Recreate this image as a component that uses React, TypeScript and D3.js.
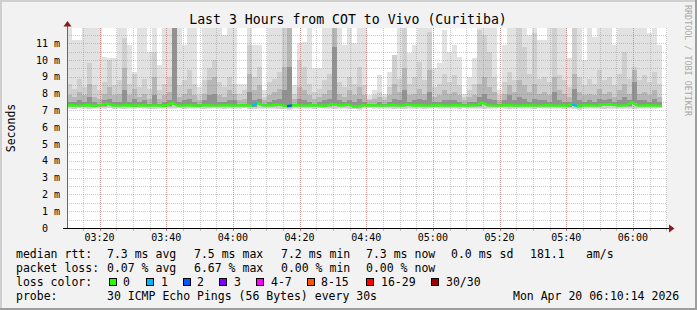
import React from "react";
import * as d3 from "d3";

const TITLE = "Last 3 Hours from COT to Vivo (Curitiba)";
const Y_LABEL = "Seconds";
const SIDE_LABEL = "RRDTOOL / TOBI OETIKER";
const START = new Date(2026, 3, 20, 3, 10, 14);
const END = new Date(2026, 3, 20, 6, 10, 14);
const STEP_SEC = 90;
const Y_MAX = 11.91;
const Y_TICKS = [0, 1, 2, 3, 4, 5, 6, 7, 8, 9, 10, 11];

// smoke: outer (lightest) top per column
const smokeMax = [
  11.9, 11.2, 11.2, 11.9, 11.9, 11.9, 11.9, 10.2, 10.1, 10.1,
  11.9, 11.9, 10.9, 9.3, 11.9, 11.9, 10.5, 11.9, 9.7, 11.9,
  11.9, 11.9, 11.9, 10.9, 11.9, 11.9, 8.4, 11.9, 11.9, 11.9,
  11.9, 11.5, 11.9, 11.9, 8.6, 8.6, 11.9, 10.9, 10.9, 8.2,
  11.9, 11.9, 11.9, 11.9, 11.9, 8.5, 11.0, 11.1, 11.9, 9.5,
  9.5, 11.9, 11.9, 11.9, 11.9, 10.9, 11.9, 11.0, 11.9, 11.9,
  7.9, 8.2, 9.1, 8.0, 9.3, 10.1, 11.9, 11.9, 10.4, 10.9,
  11.9, 11.9, 11.9, 9.5, 9.8, 11.8, 10.5, 10.9, 10.2, 8.0,
  9.0, 10.1, 11.9, 11.9, 11.9, 11.9, 8.2, 10.9, 11.9, 11.9,
  11.9, 11.9, 11.5, 11.9, 11.2, 11.2, 11.9, 11.9, 11.9, 11.9,
  10.1, 11.9, 11.9, 10.0, 11.9, 11.4, 11.9, 11.9, 11.9, 10.9,
  11.9, 11.9, 11.9, 11.9, 11.9, 11.9, 11.6, 11.9, 10.9,
];
const smokeL2 = [
  8.6, 8.3, 8.9, 8.4, 9.8, 8.5, 8.2, 8.7, 10.0, 8.5,
  8.8, 11.3, 8.6, 9.2, 8.4, 8.9, 8.3, 10.5, 8.2, 8.6,
  9.0, 11.9, 8.5, 8.8, 9.4, 8.6, 7.9, 8.8, 9.5, 10.0,
  8.7, 8.4, 9.0, 8.6, 8.0, 8.2, 10.9, 9.0, 9.6, 7.8,
  8.7, 8.9, 9.3, 11.9, 11.9, 8.0, 10.0, 9.6, 8.6, 8.1,
  8.3, 8.8, 9.2, 11.9, 8.7, 8.4, 9.0, 8.6, 9.6, 8.5,
  7.7, 7.9, 8.1, 7.8, 8.4, 10.3, 8.9, 11.9, 8.6, 9.0,
  9.9, 8.8, 11.7, 8.4, 8.6, 9.2, 8.7, 9.1, 8.5, 7.8,
  8.2, 8.6, 11.8, 11.5, 10.5, 9.0, 7.9, 8.7, 9.3, 8.8,
  11.9, 10.8, 9.2, 11.6, 8.9, 9.0, 8.7, 11.9, 9.1, 8.8,
  8.4, 11.9, 9.0, 8.5, 8.9, 8.6, 9.4, 8.8, 9.0, 8.5,
  9.2, 10.5, 8.9, 9.6, 8.8, 9.1, 8.7, 9.3, 8.6,
];
const smokeL3 = [
  7.9, 7.8, 8.1, 7.9, 8.6, 7.8, 7.7, 8.0, 8.4, 7.9,
  8.0, 9.5, 7.9, 8.3, 7.8, 8.0, 7.7, 9.0, 7.7, 7.9,
  8.1, 11.9, 7.8, 8.0, 8.3, 7.9, 7.6, 8.0, 8.8, 9.0,
  7.9, 7.8, 8.2, 8.0, 7.6, 7.7, 9.2, 8.2, 8.5, 7.6,
  7.9, 8.1, 8.3, 9.6, 11.9, 7.7, 8.4, 8.2, 7.9, 7.7,
  7.8, 8.0, 8.2, 11.9, 8.0, 7.8, 8.2, 7.9, 8.4, 7.9,
  7.6, 7.7, 7.8, 7.6, 7.9, 8.6, 8.1, 9.5, 7.9, 8.0,
  8.3, 8.0, 9.4, 7.8, 7.9, 8.2, 8.0, 8.1, 7.9, 7.6,
  7.8, 7.9, 8.6, 9.0, 8.4, 8.1, 7.6, 8.0, 8.5, 8.1,
  8.8, 8.5, 8.1, 8.6, 8.0, 8.1, 7.9, 9.0, 8.2, 8.0,
  7.8, 9.2, 8.1, 7.9, 8.0, 7.9, 8.3, 8.0, 8.1, 7.8,
  8.2, 8.6, 8.0, 9.4, 8.0, 8.1, 7.9, 8.2, 7.8,
];
const smokeL4 = [
  7.5, 7.5, 7.6, 7.5, 7.8, 7.5, 7.4, 7.6, 7.7, 7.5,
  7.5, 8.2, 7.5, 7.7, 7.5, 7.6, 7.4, 7.9, 7.4, 7.5,
  7.6, 11.9, 7.5, 7.6, 7.7, 7.5, 7.4, 7.6, 7.9, 8.0,
  7.5, 7.5, 7.6, 7.6, 7.4, 7.4, 8.1, 7.6, 7.7, 7.4,
  7.5, 7.6, 7.7, 8.2, 9.6, 7.4, 7.7, 7.6, 7.5, 7.4,
  7.5, 7.6, 7.7, 10.8, 7.6, 7.5, 7.6, 7.5, 7.7, 7.5,
  7.4, 7.4, 7.5, 7.4, 7.5, 7.7, 7.6, 8.2, 7.5, 7.6,
  7.7, 7.6, 8.1, 7.5, 7.5, 7.6, 7.6, 7.6, 7.5, 7.4,
  7.5, 7.5, 7.8, 8.0, 7.7, 7.6, 7.4, 7.6, 7.9, 7.6,
  7.8, 7.7, 7.5, 7.7, 7.6, 7.6, 7.5, 8.1, 7.6, 7.5,
  7.5, 8.3, 7.6, 7.5, 7.6, 7.5, 7.7, 7.6, 7.7, 7.5,
  7.6, 7.8, 7.6, 8.7, 7.6, 7.6, 7.5, 7.7, 7.5,
];
const smokeMin = [
  7.10, 7.08, 7.12, 7.10, 7.06, 7.11, 7.09, 7.10, 7.12, 7.08,
  7.10, 7.07, 7.11, 7.09, 7.12, 7.10, 7.08, 7.06, 7.11, 7.10,
  7.09, 7.10, 7.12, 7.08, 7.10, 7.11, 7.09, 7.07, 7.10, 7.12,
  7.10, 7.08, 7.11, 7.09, 7.10, 7.12, 7.08, 7.06, 7.10, 7.11,
  7.09, 7.10, 7.08, 7.06, 7.05, 7.10, 7.09, 7.11, 7.10, 7.08,
  7.12, 7.10, 7.09, 7.07, 7.10, 7.11, 7.08, 7.06, 7.05, 7.10,
  7.12, 7.10, 7.09, 7.11, 7.10, 7.08, 7.10, 7.07, 7.09, 7.11,
  7.10, 7.08, 7.09, 7.12, 7.10, 7.11, 7.09, 7.10, 7.08, 7.12,
  7.10, 7.09, 7.11, 7.08, 7.10, 7.09, 7.12, 7.10, 7.08, 7.10,
  7.09, 7.11, 7.10, 7.08, 7.12, 7.10, 7.09, 7.11, 7.10, 7.08,
  7.10, 7.06, 7.05, 7.10, 7.09, 7.11, 7.10, 7.08, 7.09, 7.10,
  7.11, 7.09, 7.10, 7.08, 7.10, 7.11, 7.09, 7.10, 7.12,
];
const medianRtt = [
  7.30, 7.31, 7.29, 7.30, 7.32, 7.28, 7.30, 7.33, 7.42, 7.31,
  7.29, 7.30, 7.32, 7.28, 7.30, 7.31, 7.29, 7.30, 7.30, 7.28,
  7.31, 7.45, 7.30, 7.29, 7.31, 7.30, 7.28, 7.30, 7.32, 7.30,
  7.29, 7.30, 7.31, 7.29, 7.30, 7.31, 7.30, 7.28, 7.44, 7.32,
  7.30, 7.31, 7.36, 7.30, 7.26, 7.30, 7.32, 7.30, 7.29, 7.31,
  7.30, 7.28, 7.30, 7.38, 7.33, 7.30, 7.36, 7.27, 7.24, 7.30,
  7.30, 7.31, 7.30, 7.29, 7.30, 7.33, 7.30, 7.29, 7.35, 7.30,
  7.31, 7.30, 7.29, 7.30, 7.31, 7.30, 7.29, 7.30, 7.31, 7.30,
  7.29, 7.30, 7.31, 7.48, 7.32, 7.30, 7.29, 7.30, 7.31, 7.30,
  7.29, 7.30, 7.31, 7.30, 7.29, 7.30, 7.32, 7.30, 7.29, 7.30,
  7.28, 7.36, 7.27, 7.30, 7.31, 7.30, 7.29, 7.35, 7.36, 7.35,
  7.30, 7.29, 7.33, 7.48, 7.30, 7.29, 7.31, 7.30, 7.29,
];
const lossCols = [37, 44, 101];
const lossVals = [1, 2, 1];

const LOSS_LABELS = ["0", "1", "2", "3", "4-7", "8-15", "16-29", "30/30"];
const LOSS_COLORS = ["#26ff00", "#00b8ff", "#0059ff", "#7e00ff", "#ff00ff", "#ff5500", "#ff0000", "#a10000"];
const LOSS_BOX_X = [109, 146, 183, 219, 256, 307, 366, 431];
const LOSS_TEXT_X = [123, 161, 197, 234, 271, 321, 381, 446];

const RTT_ITEMS = ["median rtt:", "7.3 ms avg", "7.5 ms max", "7.2 ms min", "7.3 ms now", "0.0 ms sd", "181.1", "am/s"];
const RTT_X = [16, 107, 194, 281, 366, 451, 530, 586];
const LOSS_ITEMS = ["packet loss:", "0.07 % avg", "6.67 % max", "0.00 % min", "0.00 % now"];
const LOSS_X = [16, 107, 194, 281, 366];
const PROBE_ITEMS = ["probe:", "30 ICMP Echo Pings (56 Bytes) every 30s", "Mon Apr 20 06:10:14 2026"];
const PROBE_X = [16, 107, 513];

const X0 = 67, X1 = 667, YT = 28, YB = 228;

export default function App() {
  const x = d3.scaleTime().domain([START, END]).range([X0, X1]);
  const y = d3.scaleLinear().domain([0, Y_MAX]).range([YB, YT]);
  const n = medianRtt.length;
  const colT = (i: number) => d3.timeSecond.offset(START, i * STEP_SEC);
  const majorX = x.ticks(d3.timeMinute.every(20) as any);
  const minorX = x.ticks(d3.timeMinute.every(5) as any);
  const fmt = d3.timeFormat("%H:%M");
  const minorY = d3.range(0.5, Y_MAX, 1);

  const layers = [
    { top: smokeMax, color: "#e2e2e2", bot: (i: number) => smokeMin[i] },
    { top: smokeL2, color: "#cfcfcf", bot: (i: number) => smokeMin[i] + 0.03 },
    { top: smokeL3, color: "#b6b6b6", bot: (i: number) => medianRtt[i] - 0.1 },
    { top: smokeL4, color: "#929292", bot: (i: number) => medianRtt[i] - 0.05 },
  ];

  const medPts: [number, number][] = medianRtt.map((v, i) => [x(colT(i)) as number, y(v)]);
  medPts.push([x(colT(n)) as number, y(medianRtt[n - 1])]);
  const line = d3.line();

  return (
    <svg width={697} height={310} style={{ position: "absolute", left: 0, top: 0, display: "block" }}
      fontFamily="DejaVu Sans Mono">
      <rect x={0} y={0} width={697} height={310} fill="#f2f2f2" />
      <rect x={0} y={0} width={697} height={2} fill="#cfcfcf" />
      <rect x={0} y={0} width={2} height={310} fill="#cfcfcf" />
      <rect x={0} y={308} width={697} height={2} fill="#9e9e9e" />
      <rect x={695} y={0} width={2} height={310} fill="#9e9e9e" />
      <rect x={X0} y={YT} width={X1 - X0} height={YB - YT} fill="#ffffff" />

      <g shapeRendering="crispEdges">
        {layers.map((L, li) => (
          <g key={li}>
            {L.top.slice(0, n).map((v, i) => {
              const xa = Math.round(x(colT(i)) as number);
              const xb = Math.round(x(colT(i + 1)) as number);
              const yt = Math.max(YT, y(v));
              const yb = y(L.bot(i));
              return <rect key={i} x={xa} y={yt} width={xb - xa} height={Math.max(0, yb - yt)} fill={L.color} />;
            })}
          </g>
        ))}
      </g>

      {/* grid */}
      <g shapeRendering="crispEdges" strokeDasharray="1 1" strokeWidth={1}>
        {minorY.map((v, i) => (
          <line key={"my" + i} x1={X0} x2={X1} y1={Math.round(y(v)) + 0.5} y2={Math.round(y(v)) + 0.5} stroke="rgba(140,140,140,0.45)" />
        ))}
        {minorX.map((t, i) => (
          <line key={"mx" + i} x1={Math.round(x(t) as number) + 0.5} x2={Math.round(x(t) as number) + 0.5} y1={YT} y2={YB} stroke="rgba(140,140,140,0.45)" />
        ))}
        {Y_TICKS.filter((v) => v > 0).map((v) => (
          <line key={"My" + v} x1={X0} x2={X1} y1={Math.round(y(v)) + 0.5} y2={Math.round(y(v)) + 0.5} stroke="rgba(225,70,70,0.38)" />
        ))}
        {majorX.map((t, i) => (
          <line key={"Mx" + i} x1={Math.round(x(t) as number) + 0.5} x2={Math.round(x(t) as number) + 0.5} y1={YT} y2={YB} stroke="rgba(225,70,70,0.38)" />
        ))}
      </g>

      {/* median line */}
      <path d={line(medPts) || ""} fill="none" stroke="#26ff00" strokeWidth={2.4} />
      {lossCols.map((c, k) => {
        const pts: [number, number][] = [[x(colT(c)) as number, y(medianRtt[c])], [x(colT(c + 1)) as number, y(medianRtt[c + 1])]];
        return <path key={"l" + k} d={line(pts) || ""} fill="none" stroke={LOSS_COLORS[lossVals[k]]} strokeWidth={2.4} />;
      })}

      {/* axes */}
      <g shapeRendering="crispEdges">
        {minorX.map((t, i) => (
          <line key={"tx" + i} x1={Math.round(x(t) as number) + 0.5} x2={Math.round(x(t) as number) + 0.5} y1={YB} y2={YB + 3} stroke="rgba(140,140,140,0.5)" />
        ))}
        {majorX.map((t, i) => (
          <line key={"Tx" + i} x1={Math.round(x(t) as number) + 0.5} x2={Math.round(x(t) as number) + 0.5} y1={YB} y2={YB + 3} stroke="rgba(225,60,60,0.6)" />
        ))}
        <line x1={X0 + 0.5} x2={X0 + 0.5} y1={YB + 1} y2={25} stroke="#666" />
        <line x1={63} x2={670} y1={YB + 0.5} y2={YB + 0.5} stroke="#000" />
      </g>
      <path d={`M${X0 - 3.5},${26.5} L${X0 + 0.5},${21} L${X0 + 4.5},${26.5} Z`} fill="#8b1a1a" />
      <path d={`M${669},${YB - 3.5} L${674.5},${YB + 0.5} L${669},${YB + 4.5} Z`} fill="#8b1a1a" />

      {/* y labels */}
      <g fontSize={10} fill="#000" textAnchor="end">
        {Y_TICKS.map((v) => (
          <text key={"yl" + v} x={v === 0 ? 48 : 60} y={y(v) + 3.6}>{v === 0 ? "0" : `${v} m`}</text>
        ))}
      </g>
      {/* x labels */}
      <g fontSize={10} fill="#000" textAnchor="middle">
        {majorX.map((t, i) => (
          <text key={"xl" + i} x={x(t) as number} y={241}>{fmt(t as Date)}</text>
        ))}
      </g>

      <text x={348} y={24} fontSize={13.2} textAnchor="middle" fill="#000">{TITLE}</text>
      <text transform="translate(15,128) rotate(-90)" fontSize={11.5} textAnchor="middle" fill="#000">{Y_LABEL}</text>
      <text transform="translate(684.5,5) rotate(90)" fontSize={8.4} fill="#a8a8a8">{SIDE_LABEL}</text>

      {/* legend */}
      <g fontSize={11.5} fill="#000">
        {RTT_ITEMS.map((s, i) => <text key={"r" + i} x={RTT_X[i]} y={258}>{s}</text>)}
        {LOSS_ITEMS.map((s, i) => <text key={"p" + i} x={LOSS_X[i]} y={272}>{s}</text>)}
        <text x={16} y={286}>loss color:</text>
        {LOSS_LABELS.map((s, i) => (
          <g key={"lc" + i}>
            <rect x={LOSS_BOX_X[i] + 0.5} y={278.5} width={7} height={7} fill={LOSS_COLORS[i]} stroke="#000" shapeRendering="crispEdges" />
            <text x={LOSS_TEXT_X[i]} y={286}>{s}</text>
          </g>
        ))}
        {PROBE_ITEMS.map((s, i) => <text key={"pr" + i} x={PROBE_X[i]} y={300}>{s}</text>)}
      </g>
    </svg>
  );
}
